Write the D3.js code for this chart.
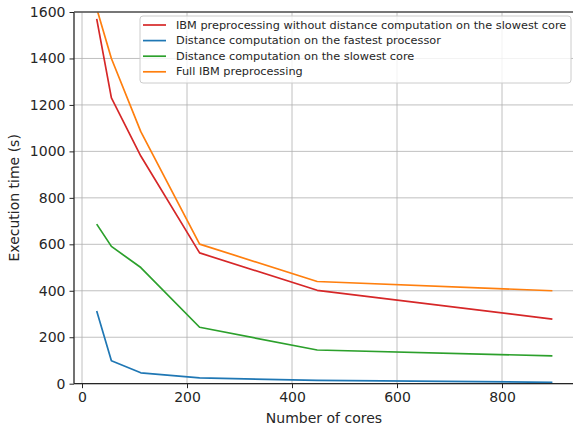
<!DOCTYPE html>
<html>
<head>
<meta charset="utf-8">
<script src="https://cdn.jsdelivr.net/npm/d3@7"></script>
<style>
  html, body { margin: 0; padding: 0; background: #fff; }
  svg { display: block; }
</style>
</head>
<body>
<script>
'use strict';
const W = 573, H = 428;
const FONT = 'DejaVu Sans, sans-serif';

// data
const cores = [28, 56, 112, 224, 448, 896];
const ibmNoDist = [1570, 1230, 980, 563, 402, 278];
const distFastest = [313, 99, 47, 25, 14, 6];
const distSlowest = [687, 591, 500, 243, 145, 120];
const fullIbm = [1615, 1400, 1085, 601, 440, 400];
const xTicks = [0, 200, 400, 600, 800];
const yTicks = [0, 200, 400, 600, 800, 1000, 1200, 1400, 1600];

const series = [
  { name: 'IBM preprocessing without distance computation on the slowest core', values: ibmNoDist, color: '#d62728' },
  { name: 'Distance computation on the fastest processor', values: distFastest, color: '#1f77b4' },
  { name: 'Distance computation on the slowest core', values: distSlowest, color: '#2ca02c' },
  { name: 'Full IBM preprocessing', values: fullIbm, color: '#ff7f0e' }
];

const plot = { left: 74, right: 600, top: 12, bottom: 383.7 };

const svg = d3.select('body').append('svg')
  .attr('width', W).attr('height', H)
  .attr('viewBox', `0 0 ${W} ${H}`);
svg.append('rect').attr('width', W).attr('height', H).attr('fill', '#fff');

// x: 0 -> 82px, 200 -> 187px
const x = d3.scaleLinear().domain([0, 200]).range([82, 187]);
const y = d3.scaleLinear().domain([0, 1600]).range([plot.bottom, plot.top]);

svg.append('defs').append('clipPath').attr('id', 'clip')
  .append('rect')
  .attr('x', plot.left).attr('y', plot.top)
  .attr('width', plot.right - plot.left).attr('height', plot.bottom - plot.top);

// grid
const grid = svg.append('g');
grid.selectAll('.gx').data(xTicks).join('line')
  .attr('x1', d => x(d)).attr('x2', d => x(d))
  .attr('y1', plot.top).attr('y2', plot.bottom)
  .attr('stroke', '#b0b0b0').attr('stroke-width', 0.8);
grid.selectAll('.gy').data(yTicks).join('line')
  .attr('x1', plot.left).attr('x2', plot.right)
  .attr('y1', d => y(d)).attr('y2', d => y(d))
  .attr('stroke', '#b0b0b0').attr('stroke-width', 0.8);

// lines
const line = d3.line().x((d, i) => x(cores[i])).y(d => y(d));
svg.append('g').attr('clip-path', 'url(#clip)')
  .selectAll('path').data(series).join('path')
  .attr('d', s => line(s.values))
  .attr('fill', 'none')
  .attr('stroke', s => s.color)
  .attr('stroke-width', 1.7)
  .attr('stroke-linejoin', 'round');

// axes
const fmt = d3.format('d');
const xAxis = svg.append('g')
  .attr('transform', `translate(0,${plot.bottom})`)
  .call(d3.axisBottom(x).tickValues(xTicks).tickFormat(fmt).tickSize(4.5).tickPadding(4));
const yAxis = svg.append('g')
  .attr('transform', `translate(${plot.left},0)`)
  .call(d3.axisLeft(y).tickValues(yTicks).tickFormat(fmt).tickSize(4.5).tickPadding(4));
[xAxis, yAxis].forEach(a => {
  a.select('.domain').remove();
  a.selectAll('line').attr('stroke', '#262626').attr('stroke-width', 1);
  a.selectAll('text').attr('font-family', FONT).attr('font-size', 14).attr('fill', '#262626');
});

// spines
const spines = svg.append('g').attr('stroke', '#262626').attr('stroke-width', 1.3);
spines.append('line').attr('x1', plot.left).attr('x2', plot.left).attr('y1', plot.top).attr('y2', plot.bottom);
spines.append('line').attr('x1', plot.left).attr('x2', plot.right).attr('y1', plot.bottom).attr('y2', plot.bottom);
spines.append('line').attr('x1', plot.left).attr('x2', plot.right).attr('y1', plot.top).attr('y2', plot.top)
  .attr('stroke', '#555');

// axis labels
svg.append('text')
  .attr('x', (82 + 552) / 2 + 7).attr('y', 423)
  .attr('text-anchor', 'middle')
  .attr('font-family', FONT).attr('font-size', 14).attr('fill', '#262626')
  .text('Number of cores');
svg.append('text')
  .attr('transform', `translate(19,${(plot.top + plot.bottom) / 2}) rotate(-90)`)
  .attr('text-anchor', 'middle')
  .attr('font-family', FONT).attr('font-size', 14).attr('fill', '#262626')
  .text('Execution time (s)');

// legend
const lg = svg.append('g');
lg.append('rect')
  .attr('x', 140).attr('y', 16).attr('width', 431).attr('height', 67)
  .attr('rx', 3).attr('fill', '#fff').attr('fill-opacity', 0.8)
  .attr('stroke', '#cccccc').attr('stroke-width', 1);
const items = lg.selectAll('g.item').data(series).join('g')
  .attr('transform', (d, i) => `translate(0,${25 + i * 15.6})`);
items.append('line')
  .attr('x1', 143).attr('x2', 166)
  .attr('stroke', d => d.color).attr('stroke-width', 1.7);
items.append('text')
  .attr('x', 176).attr('y', 0)
  .attr('dominant-baseline', 'central')
  .attr('font-family', FONT).attr('font-size', 11.3).attr('fill', '#262626')
  .text(d => d.name);
</script>
</body>
</html>
